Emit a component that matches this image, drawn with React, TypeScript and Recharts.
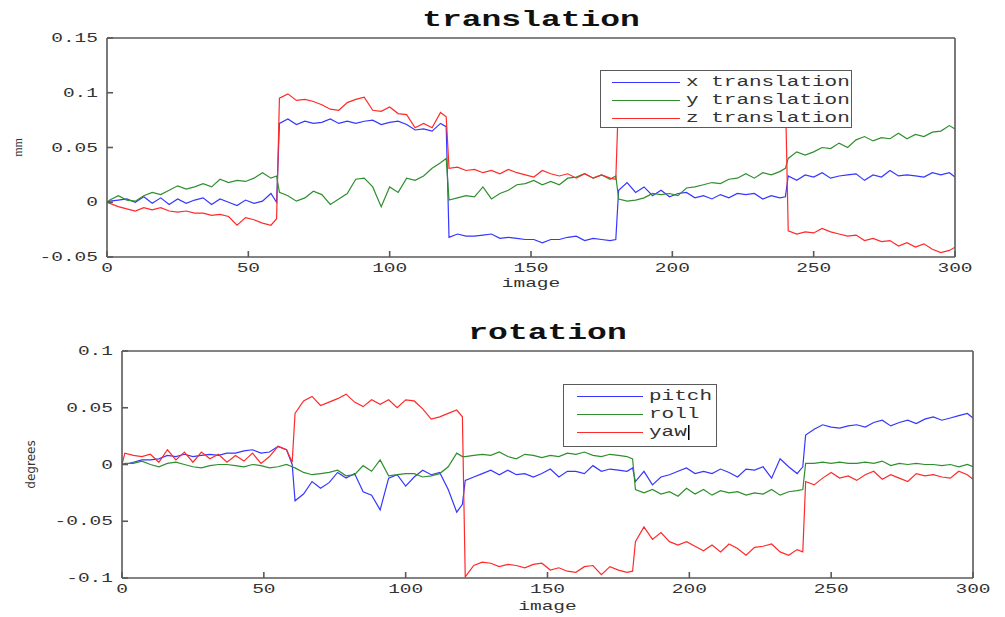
import React from 'react';
import { LineChart, Line, XAxis, YAxis, Legend } from 'recharts';

// image index of every sample (steps happen between 60/61, 120/121, 180/181, 240/241)
const images = [
  0,
  1, 4, 7, 10, 13, 16, 19, 22, 25, 28, 31, 34, 37, 40, 43, 46, 49, 52, 55, 58, 60,
  61, 64, 67, 70, 73, 76, 79, 82, 85, 88, 91, 94, 97, 100, 103, 106, 109, 112, 115, 118, 120,
  121, 124, 127, 130, 133, 136, 139, 142, 145, 148, 151, 154, 157, 160, 163, 166, 169, 172, 175, 178, 180,
  181, 184, 187, 190, 193, 196, 199, 202, 205, 208, 211, 214, 217, 220, 223, 226, 229, 232, 235, 238, 240,
  241, 244, 247, 250, 253, 256, 259, 262, 265, 268, 271, 274, 277, 280, 283, 286, 289, 292, 295, 298, 300,
];

// translation (mm)
const xTranslation = [
  0,
  0.001, 0.002, 0.003, 0.0, 0.005, -0.001, 0.004, -0.002, 0.003, -0.001, 0.002, 0.004, -0.002, 0.003, 0.0, -0.003, 0.002, -0.001, 0.001, 0.008, 0.0,
  0.072, 0.076, 0.071, 0.074, 0.072, 0.073, 0.076, 0.072, 0.074, 0.072, 0.074, 0.075, 0.071, 0.073, 0.074, 0.071, 0.066, 0.067, 0.065, 0.072, 0.069,
  -0.032, -0.029, -0.031, -0.031, -0.03, -0.029, -0.033, -0.032, -0.033, -0.034, -0.034, -0.037, -0.034, -0.034, -0.032, -0.031, -0.035, -0.033, -0.034, -0.035, -0.034,
  0.011, 0.018, 0.009, 0.014, 0.006, 0.011, 0.005, 0.008, 0.009, 0.004, 0.006, 0.003, 0.007, 0.004, 0.008, 0.007, 0.008, 0.003, 0.006, 0.004, 0.005,
  0.024, 0.02, 0.025, 0.023, 0.027, 0.022, 0.024, 0.025, 0.026, 0.02, 0.025, 0.023, 0.029, 0.024, 0.025, 0.024, 0.023, 0.027, 0.025, 0.027, 0.023,
];
const yTranslation = [
  0,
  0.002, 0.006, 0.002, 0.001, 0.006, 0.009, 0.007, 0.011, 0.015, 0.012, 0.014, 0.017, 0.014, 0.021, 0.018, 0.02, 0.019, 0.022, 0.027, 0.022, 0.024,
  0.009, 0.006, 0.001, 0.004, 0.01, 0.007, -0.002, 0.003, 0.008, 0.021, 0.022, 0.014, -0.004, 0.014, 0.009, 0.022, 0.02, 0.024, 0.031, 0.036, 0.04,
  0.002, 0.004, 0.006, 0.005, 0.014, 0.003, 0.008, 0.011, 0.016, 0.017, 0.02, 0.016, 0.019, 0.016, 0.022, 0.023, 0.026, 0.022, 0.025, 0.021, 0.024,
  0.003, 0.001, 0.002, 0.004, 0.008, 0.007, 0.008, 0.006, 0.013, 0.014, 0.016, 0.018, 0.017, 0.021, 0.022, 0.026, 0.022, 0.027, 0.025, 0.028, 0.031,
  0.04, 0.046, 0.043, 0.046, 0.05, 0.049, 0.054, 0.05, 0.057, 0.06, 0.056, 0.059, 0.058, 0.063, 0.058, 0.062, 0.06, 0.064, 0.065, 0.07, 0.067,
];
const zTranslation = [
  0,
  -0.001, -0.004, -0.006, -0.008, -0.005, -0.007, -0.005, -0.008, -0.009, -0.008, -0.01, -0.01, -0.012, -0.011, -0.013, -0.021, -0.014, -0.016, -0.019, -0.021, -0.015,
  0.095, 0.099, 0.093, 0.094, 0.092, 0.089, 0.085, 0.084, 0.091, 0.094, 0.096, 0.084, 0.083, 0.087, 0.081, 0.08, 0.068, 0.072, 0.068, 0.082, 0.078,
  0.031, 0.032, 0.029, 0.03, 0.027, 0.029, 0.026, 0.03, 0.027, 0.025, 0.023, 0.029, 0.026, 0.024, 0.026, 0.022, 0.026, 0.022, 0.025, 0.022, 0.021,
  0.098, 0.101, 0.097, 0.103, 0.099, 0.096, 0.102, 0.1, 0.097, 0.104, 0.099, 0.101, 0.096, 0.1, 0.103, 0.098, 0.1, 0.097, 0.102, 0.099, 0.1,
  -0.026, -0.029, -0.027, -0.028, -0.024, -0.027, -0.029, -0.031, -0.03, -0.035, -0.033, -0.036, -0.035, -0.04, -0.037, -0.041, -0.038, -0.043, -0.046, -0.044, -0.041,
];

// rotation (degrees)
const pitch = [
  0,
  0.0, 0.002, 0.004, 0.004, 0.005, 0.008, 0.007, 0.009, 0.007, 0.008, 0.009, 0.008, 0.01, 0.01, 0.012, 0.013, 0.01, 0.011, 0.016, 0.013, 0.0,
  -0.032, -0.026, -0.015, -0.021, -0.016, -0.007, -0.012, -0.008, -0.024, -0.027, -0.04, -0.012, -0.009, -0.019, -0.011, -0.005, -0.009, -0.007, -0.022, -0.042, -0.035,
  -0.014, -0.011, -0.008, -0.005, -0.009, -0.005, -0.009, -0.008, -0.011, -0.008, -0.004, -0.011, -0.006, -0.006, -0.008, -0.001, -0.006, -0.004, -0.005, -0.006, -0.003,
  -0.015, -0.006, -0.018, -0.011, -0.009, -0.006, -0.003, -0.008, -0.006, -0.008, -0.004, -0.007, -0.011, -0.004, -0.005, -0.002, -0.012, 0.005, -0.002, -0.008, -0.002,
  0.026, 0.031, 0.035, 0.033, 0.032, 0.034, 0.035, 0.033, 0.037, 0.039, 0.034, 0.037, 0.039, 0.036, 0.04, 0.042, 0.039, 0.041, 0.043, 0.045, 0.041,
];
const roll = [
  0,
  0.001, 0.001, 0.003, 0.0, -0.002, 0.001, 0.002, 0.0, -0.002, -0.003, -0.001, 0.0, 0.0, -0.001, -0.002, 0.0, -0.001, -0.003, -0.002, 0.0, -0.002,
  -0.003, -0.007, -0.009, -0.008, -0.007, -0.005, -0.01, -0.009, -0.001, -0.006, 0.004, -0.01, -0.009, -0.008, -0.008, -0.011, -0.01, -0.008, -0.002, 0.01, 0.007,
  0.007, 0.008, 0.009, 0.008, 0.011, 0.007, 0.005, 0.009, 0.008, 0.006, 0.008, 0.007, 0.01, 0.009, 0.011, 0.008, 0.007, 0.009, 0.008, 0.007, 0.005,
  -0.022, -0.025, -0.022, -0.026, -0.024, -0.028, -0.021, -0.026, -0.022, -0.027, -0.023, -0.025, -0.024, -0.027, -0.025, -0.026, -0.022, -0.027, -0.024, -0.023, -0.022,
  0.001, 0.001, 0.002, 0.001, 0.002, 0.001, 0.001, 0.002, 0.001, 0.003, -0.001, 0.001, 0.0, 0.001, 0.0, 0.0, -0.001, 0.0, -0.002, 0.0, -0.002,
];
const yaw = [
  0,
  0.01, 0.008, 0.007, 0.009, 0.002, 0.013, 0.004, 0.011, 0.002, 0.011, 0.005, 0.009, 0.002, 0.008, 0.003, 0.01, 0.001, 0.007, 0.016, 0.013, 0.002,
  0.045, 0.056, 0.06, 0.052, 0.055, 0.058, 0.062, 0.055, 0.051, 0.057, 0.053, 0.057, 0.05, 0.057, 0.056, 0.049, 0.04, 0.042, 0.045, 0.048, 0.042,
  -0.099, -0.089, -0.086, -0.087, -0.09, -0.088, -0.089, -0.091, -0.088, -0.087, -0.093, -0.091, -0.094, -0.095, -0.09, -0.089, -0.097, -0.09, -0.093, -0.095, -0.094,
  -0.068, -0.055, -0.066, -0.06, -0.068, -0.071, -0.068, -0.072, -0.076, -0.071, -0.077, -0.07, -0.074, -0.08, -0.073, -0.072, -0.07, -0.077, -0.08, -0.075, -0.077,
  -0.015, -0.018, -0.012, -0.007, -0.012, -0.01, -0.014, -0.009, -0.006, -0.013, -0.009, -0.012, -0.015, -0.008, -0.01, -0.009, -0.011, -0.012, -0.006, -0.009, -0.013,
];

const imageTicks = [0, 50, 100, 150, 200, 250, 300];
const translationTicks = [-0.05, 0, 0.05, 0.1, 0.15];
const rotationTicks = [-0.1, -0.05, 0, 0.05, 0.1];

const translationData = images.map((image, i) => ({
  image,
  x: xTranslation[i],
  y: yTranslation[i],
  z: zTranslation[i],
}));
const rotationData = images.map((image, i) => ({
  image,
  pitch: pitch[i],
  roll: roll[i],
  yaw: yaw[i],
}));

const MONO = '"Liberation Mono", "DejaVu Sans Mono", monospace';
const BLUE = '#3636ff';
const GREEN = '#2f8f2f';
const RED = '#ff2a2a';
const FRAME = '#5a5a5a';
const TEXT = '#333';

const fmt = (v: number) => (v === 0 ? '0' : String(v));

function XTick(props: any) {
  const { x, y, payload } = props;
  return (
    <text
      transform={`translate(${x},${y + 21}) scale(1.5,1)`}
      textAnchor="middle"
      fontFamily={MONO}
      fontSize={13}
      fill={TEXT}
    >
      {fmt(payload.value)}
    </text>
  );
}

function YTick(props: any) {
  const { x, y, payload } = props;
  return (
    <text
      transform={`translate(${x - 15},${y + 4}) scale(1.5,1)`}
      textAnchor="end"
      fontFamily={MONO}
      fontSize={13}
      fill={TEXT}
    >
      {fmt(payload.value)}
    </text>
  );
}

function Title(props: any) {
  const { viewBox, text } = props;
  const cx = viewBox.x + viewBox.width / 2;
  return (
    <text
      transform={`translate(${cx},${viewBox.y - 11}) scale(1.5,1)`}
      textAnchor="middle"
      fontFamily={MONO}
      fontWeight="bold"
      fontSize={22}
      fill="#111"
    >
      {text}
    </text>
  );
}

function XLabel(props: any) {
  const { viewBox, text, shift } = props;
  const cx = viewBox.x + viewBox.width / 2;
  return (
    <text
      transform={`translate(${cx},${viewBox.y + shift}) scale(1.5,1)`}
      textAnchor="middle"
      fontFamily={MONO}
      fontSize={13}
      fill={TEXT}
    >
      {text}
    </text>
  );
}

function YLabel(props: any) {
  const { viewBox, text, left, font, size } = props;
  const cy = viewBox.y + viewBox.height / 2;
  return (
    <text
      x={left}
      y={cy}
      transform={`rotate(-90, ${left}, ${cy})`}
      textAnchor="middle"
      fontFamily={font}
      fontSize={size}
      fill={TEXT}
    >
      {text}
    </text>
  );
}

function LegendBox(props: any) {
  const { payload, lineLeft, lineWidth, width, height, cursorOn } = props;
  return (
    <div
      style={{
        width,
        height,
        boxSizing: 'border-box',
        background: '#fff',
        border: `1.5px solid ${FRAME}`,
        paddingTop: 2,
        paddingLeft: lineLeft,
      }}
    >
      {(payload || []).map((p: any) => (
        <div key={p.value} style={{ display: 'flex', alignItems: 'center', height: 18 }}>
          <span style={{ width: lineWidth, height: 0, borderTop: `1.5px solid ${p.color}`, marginRight: 6 }} />
          <span
            style={{
              display: 'inline-block',
              fontFamily: MONO,
              fontSize: 14,
              color: TEXT,
              whiteSpace: 'nowrap',
              transform: 'scaleX(1.5)',
              transformOrigin: 'left center',
              lineHeight: '18px',
            }}
          >
            {p.value}
            {cursorOn === p.value && (
              <span style={{ display: 'inline-block', width: 0, height: 15, borderLeft: '1px solid #000', verticalAlign: 'middle', marginLeft: 1 }} />
            )}
          </span>
        </div>
      ))}
    </div>
  );
}

const frameLine = { stroke: FRAME, strokeWidth: 1.6 };

export default function App() {
  return (
    <div style={{ position: 'absolute', left: 0, top: 0, width: 1005, height: 617, background: '#fff' }}>
      <div style={{ position: 'absolute', left: 0, top: 0 }}>
        <LineChart width={1005} height={310} data={translationData} margin={{ top: 37, right: 49, left: 57, bottom: 23 }}>
          <XAxis
            dataKey="image"
            type="number"
            domain={[0, 300]}
            ticks={imageTicks}
            interval={0}
            allowDataOverflow
            height={30}
            axisLine={frameLine}
            tickLine={frameLine}
            tickSize={-6}
            tickMargin={0}
            tick={<XTick />}
            label={<XLabel text="image" shift={30} />}
          />
          <XAxis
            xAxisId="top"
            orientation="top"
            type="number"
            domain={[0, 300]}
            ticks={imageTicks}
            interval={0}
            allowDataOverflow
            height={1}
            axisLine={frameLine}
            tickLine={frameLine}
            tickSize={-6}
            tick={false}
            label={<Title text="translation" />}
          />
          <YAxis
            type="number"
            domain={[-0.05, 0.15]}
            ticks={translationTicks}
            interval={0}
            allowDataOverflow
            width={50}
            axisLine={frameLine}
            tickLine={frameLine}
            tickSize={-6}
            tickMargin={0}
            tick={<YTick />}
            label={<YLabel text="mm" left={22} font='"Liberation Serif", serif' size={12} />}
          />
          <YAxis
            yAxisId="right"
            orientation="right"
            type="number"
            domain={[-0.05, 0.15]}
            ticks={translationTicks}
            interval={0}
            allowDataOverflow
            width={1}
            axisLine={frameLine}
            tickLine={frameLine}
            tickSize={-6}
            tick={false}
          />
          <Line type="linear" dataKey="x" name="x translation" stroke={BLUE} strokeWidth={1.2} dot={false} isAnimationActive={false} />
          <Line type="linear" dataKey="y" name="y translation" stroke={GREEN} strokeWidth={1.2} dot={false} isAnimationActive={false} />
          <Line type="linear" dataKey="z" name="z translation" stroke={RED} strokeWidth={1.2} dot={false} isAnimationActive={false} />
          <Legend
            layout="vertical"
            align="center"
            verticalAlign="middle"
            wrapperStyle={{ left: 600, top: 70, width: 252, height: 58 }}
            content={<LegendBox lineLeft={11} lineWidth={68} width={252} height={58} />}
          />
        </LineChart>
      </div>
      <div style={{ position: 'absolute', left: 0, top: 310 }}>
        <LineChart width={1005} height={307} data={rotationData} margin={{ top: 40, right: 31, left: 72, bottom: 9 }}>
          <XAxis
            dataKey="image"
            type="number"
            domain={[0, 300]}
            ticks={imageTicks}
            interval={0}
            allowDataOverflow
            height={30}
            axisLine={frameLine}
            tickLine={frameLine}
            tickSize={-6}
            tickMargin={0}
            tick={<XTick />}
            label={<XLabel text="image" shift={32} />}
          />
          <XAxis
            xAxisId="top"
            orientation="top"
            type="number"
            domain={[0, 300]}
            ticks={imageTicks}
            interval={0}
            allowDataOverflow
            height={1}
            axisLine={frameLine}
            tickLine={frameLine}
            tickSize={-6}
            tick={false}
            label={<Title text="rotation" />}
          />
          <YAxis
            type="number"
            domain={[-0.1, 0.1]}
            ticks={rotationTicks}
            interval={0}
            allowDataOverflow
            width={50}
            axisLine={frameLine}
            tickLine={frameLine}
            tickSize={-6}
            tickMargin={0}
            tick={<YTick />}
            label={<YLabel text="degrees" left={35} font='"DejaVu Sans", sans-serif' size={12} />}
          />
          <YAxis
            yAxisId="right"
            orientation="right"
            type="number"
            domain={[-0.1, 0.1]}
            ticks={rotationTicks}
            interval={0}
            allowDataOverflow
            width={1}
            axisLine={frameLine}
            tickLine={frameLine}
            tickSize={-6}
            tick={false}
          />
          <Line type="linear" dataKey="pitch" name="pitch" stroke={BLUE} strokeWidth={1.2} dot={false} isAnimationActive={false} />
          <Line type="linear" dataKey="roll" name="roll" stroke={GREEN} strokeWidth={1.2} dot={false} isAnimationActive={false} />
          <Line type="linear" dataKey="yaw" name="yaw" stroke={RED} strokeWidth={1.2} dot={false} isAnimationActive={false} />
          <Legend
            layout="vertical"
            align="center"
            verticalAlign="middle"
            wrapperStyle={{ left: 563, top: 74, width: 154, height: 63 }}
            content={<LegendBox lineLeft={13} lineWidth={66} width={154} height={63} cursorOn="yaw" />}
          />
        </LineChart>
      </div>
    </div>
  );
}
